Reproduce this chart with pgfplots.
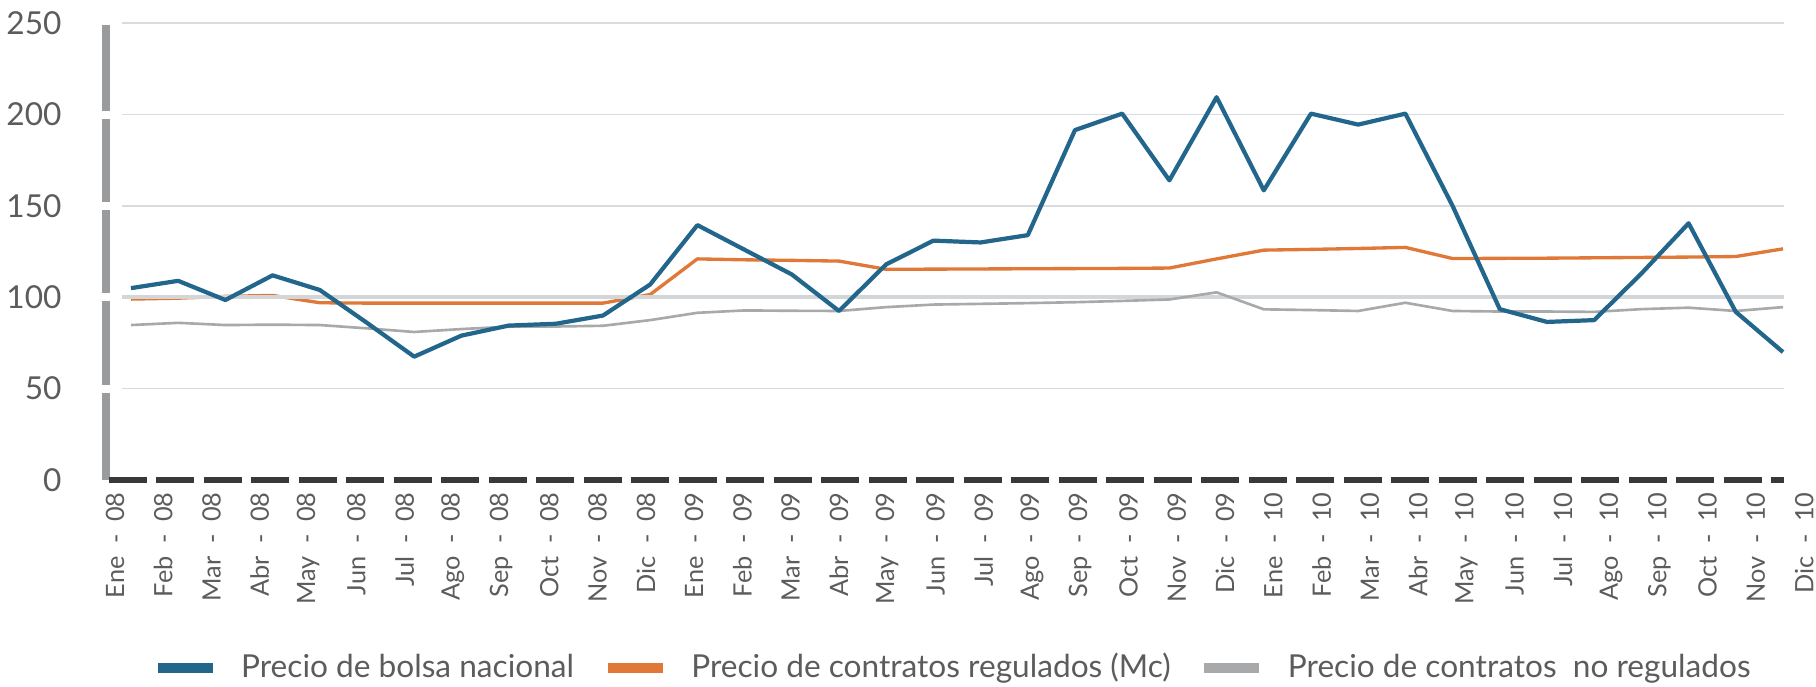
\documentclass[border=0pt]{standalone}
\usepackage{fontspec}
\setmainfont{Lato}
\usepackage{pgfplots}
\usepackage{pgfplotstable}
\pgfplotsset{compat=1.18}
\definecolor{cBlue}{HTML}{22668C}
\definecolor{cOrange}{HTML}{E07838}
\definecolor{cGray}{HTML}{A7A9AB}
\definecolor{cRef}{HTML}{D3D6D8}
\definecolor{cGrid}{HTML}{D9DCDE}
\definecolor{cAxis}{HTML}{999B9C}
\definecolor{cDash}{HTML}{3B383A}
\definecolor{cText}{HTML}{5C5C5C}

\pgfplotstableread{
i bolsa reg noreg
0 105 99 84.8
1 109 99.5 86
2 98.5 100.5 84.8
3 112 101 85
4 104 97 84.8
5 86 96.8 83
6 67.5 96.8 81
7 79 96.8 82.6
8 84.5 96.8 83.9
9 85.5 96.8 84
10 90 96.8 84.4
11 107 101.5 87.5
12 139.5 121 91.5
13 126 120.5 92.8
14 112.5 120.2 92.6
15 92.5 119.8 92.5
16 118 115.3 94.6
17 131 115.4 96
18 130 115.5 96.4
19 134 115.6 96.8
20 191.5 115.7 97.3
21 200.5 115.8 98
22 164 116 98.8
23 209.5 121 102.7
24 158.5 125.8 93.4
25 200.5 126.2 93
26 194.5 126.7 92.5
27 200.5 127.3 97
28 150 121.2 92.5
29 93.5 121.3 92.2
30 86.5 121.4 92.2
31 87.5 121.6 92
32 113 121.8 93.5
33 140.5 122 94.3
34 92 122.3 92.5
35 70 126.5 94.6
}\datatable

\newcommand\lab[2]{#1\hspace{0.5em}-\hspace{0.5em}#2}

\begin{document}
\begin{tikzpicture}
\begin{axis}[
  scale only axis,
  width=16.945cm, height=4.568cm,
  xmin=-0.7, xmax=35.2, ymin=0, ymax=250,
  clip=false,
  axis line style={draw=none},
  major tick length=0pt,
  tick style={draw=none},
  /pgf/number format/assume math mode=true,
  ytick={0,50,100,150,200,250},
  yticklabel style={font=\fontsize{9}{10}\selectfont, text=cText, xshift=-0.24cm},
  xtick={-0.657,0.366,1.388,2.411,3.433,4.456,5.478,6.501,7.523,8.546,9.568,10.591,11.613,12.636,13.658,14.681,15.703,16.726,17.748,18.771,19.793,20.816,21.838,22.861,23.883,24.906,25.928,26.951,27.973,28.996,30.018,31.041,32.063,33.086,34.108,35.131},
  xticklabels={\lab{Ene}{08},\lab{Feb}{08},\lab{Mar}{08},\lab{Abr}{08},\lab{May}{08},\lab{Jun}{08},\lab{Jul}{08},\lab{Ago}{08},\lab{Sep}{08},\lab{Oct}{08},\lab{Nov}{08},\lab{Dic}{08},
    \lab{Ene}{09},\lab{Feb}{09},\lab{Mar}{09},\lab{Abr}{09},\lab{May}{09},\lab{Jun}{09},\lab{Jul}{09},\lab{Ago}{09},\lab{Sep}{09},\lab{Oct}{09},\lab{Nov}{09},\lab{Dic}{09},
    \lab{Ene}{10},\lab{Feb}{10},\lab{Mar}{10},\lab{Abr}{10},\lab{May}{10},\lab{Jun}{10},\lab{Jul}{10},\lab{Ago}{10},\lab{Sep}{10},\lab{Oct}{10},\lab{Nov}{10},\lab{Dic}{10}},
  xticklabel style={font=\fontsize{7.2}{8}\selectfont, text=cText, rotate=90, anchor=east, yshift=-0.15cm},
  legend columns=3,
  legend style={at={(0.506,-0.4116)}, anchor=center, draw=none, fill=none,
    font=\fontsize{9}{10}\selectfont, text=cText,
    /tikz/every odd column/.append style={column sep=0.17cm},
    /tikz/every even column/.append style={column sep=0.22cm}},
  legend image code/.code={\draw[#1, line width=2.6pt] (0cm,0cm) -- (0.55cm,0cm);},
]
% grid lines
\pgfplotsinvokeforeach{50,150,200,250}{
  \draw[cGrid, line width=0.45pt] (axis cs:-0.19,#1) -- (axis cs:35.02,#1);
}
% left axis (segmented)
\draw[cAxis, line width=2.3pt] (axis cs:-0.53,0) -- (axis cs:-0.53,47.8);
\draw[cAxis, line width=2.3pt] (axis cs:-0.53,52.2) -- (axis cs:-0.53,97.8);
\draw[cAxis, line width=2.3pt] (axis cs:-0.53,102.2) -- (axis cs:-0.53,147.8);
\draw[cAxis, line width=2.3pt] (axis cs:-0.53,152.2) -- (axis cs:-0.53,197.8);
\draw[cAxis, line width=2.3pt] (axis cs:-0.53,202.2) -- (axis cs:-0.53,249);
% bottom dashed axis
\draw[cDash, line width=1.7pt, dash pattern=on 0.38cm off 0.095cm] (axis cs:-0.466,0) -- (axis cs:35.02,0);

\addlegendimage{cBlue}
\addlegendentry{Precio de bolsa nacional}
\addlegendimage{cOrange}
\addlegendentry{Precio de contratos regulados (Mc)}
\addlegendimage{cGray}
\addlegendentry{Precio de contratos~ no regulados}

\addplot[forget plot, cOrange, line width=0.95pt, line join=round] table[x=i, y=reg] {\datatable};
\addplot[forget plot, cRef, line width=1.2pt] coordinates {(-0.19,100) (35.02,100)};
\addplot[forget plot, cGray, line width=0.75pt, line join=round] table[x=i, y=noreg] {\datatable};
\addplot[forget plot, cBlue, line width=1.2pt, line join=round] table[x=i, y=bolsa] {\datatable};

\coordinate (BL) at (axis cs:-2.775,-112.75);
\coordinate (TR) at (axis cs:35.70,262.7);
\end{axis}
\pgfresetboundingbox
\path[use as bounding box] (BL) rectangle (TR);
\end{tikzpicture}
\end{document}
